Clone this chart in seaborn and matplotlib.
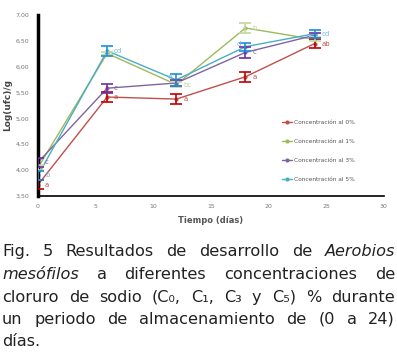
import numpy as np
import pandas as pd
import matplotlib
matplotlib.use('Agg')
import matplotlib.pyplot as plt
import seaborn as sns

# Data
dias = [0, 6, 12, 18, 24]
series_names = ['Concentración al 0%', 'Concentración al 1%',
                'Concentración al 3%', 'Concentración al 5%']
log_c0 = [3.72, 5.41, 5.37, 5.80, 6.44]
log_c1 = [4.05, 6.25, 5.65, 6.74, 6.52]
log_c3 = [4.15, 5.58, 5.68, 6.27, 6.60]
log_c5 = [3.90, 6.30, 5.74, 6.38, 6.63]
err_c0 = [0.09, 0.10, 0.10, 0.10, 0.08]
err_c1 = [0.05, 0.03, 0.05, 0.09, 0.04]
err_c3 = [0.08, 0.09, 0.06, 0.10, 0.05]
err_c5 = [0.09, 0.09, 0.11, 0.08, 0.08]
letras_c0 = ['a', 'a', 'a', 'a', 'ab']
letras_c1 = ['', '', 'bc', 'b', '']
letras_c3 = ['c', 'c', '', 'c', '']
letras_c5 = ['b', 'cd', 'd', 'd', 'cd']

line_colors = ['#C0504D', '#9BBB59', '#8064A2', '#4BACC6']
err_colors = ['#C00000', '#C4D79B', '#7030A0', '#1E90D8']
letter_colors = ['#C0504D', '#C4D79B', '#8064A2', '#6FB8E0']

means = [log_c0, log_c1, log_c3, log_c5]
errs = [err_c0, err_c1, err_c3, err_c5]
letters = [letras_c0, letras_c1, letras_c3, letras_c5]

rows = []
for name, vals in zip(series_names, means):
    for d, v in zip(dias, vals):
        rows.append({'dia': d, 'log': v, 'conc': name})
df = pd.DataFrame(rows)

sns.set_style('white')
plt.rcParams['font.family'] = ['DejaVu Sans']

fig = plt.figure(figsize=(3.97, 3.54), dpi=100)
ax = fig.add_axes([0.0957, 0.446, 0.871, 0.513])

sns.lineplot(data=df, x='dia', y='log', hue='conc', palette=line_colors,
             marker='o', markersize=3, markeredgewidth=0, linewidth=1.0,
             ax=ax, legend=True)

for vals, e, c in zip(means, errs, err_colors):
    ax.errorbar(dias, vals, yerr=e, fmt='none', ecolor=c, elinewidth=1.2,
                capsize=4, capthick=1.2, zorder=3)

# significance letters (cyan ones at t12/t18 sit left of the bar)
for i, (vals, lets, c) in enumerate(zip(means, letters, letter_colors)):
    for j, (d, v, l) in enumerate(zip(dias, vals, lets)):
        if not l:
            continue
        if i == 3 and j in (2, 3):
            ax.text(d - 0.35, v + 0.06, l, color=c, fontsize=5, ha='right', va='center')
        else:
            ax.text(d + 0.6, v, l, color=c, fontsize=5, ha='left', va='center')

ax.set_xlim(0, 30)
ax.set_ylim(3.5, 7.0)
ax.set_xticks(range(0, 31, 5))
ax.set_yticks(np.arange(3.5, 7.01, 0.5))
ax.set_yticklabels([f'{t:.2f}'.replace('.', ',') for t in np.arange(3.5, 7.01, 0.5)])
ax.tick_params(axis='both', length=0, labelsize=4.5, labelcolor='#777777', pad=6)
ax.set_xlabel('Tiempo (días)', fontsize=6, fontweight='bold', color='#555555', labelpad=5)
ax.set_ylabel('Log(ufc)/g', fontsize=6.5, fontweight='bold', color='#444444', labelpad=3)
sns.despine(ax=ax)
ax.spines['left'].set_linewidth(2.5)
ax.spines['left'].set_color('black')
ax.spines['bottom'].set_linewidth(1.2)
ax.spines['bottom'].set_color('black')

handles, labels = ax.get_legend_handles_labels()
ax.legend(handles, labels, loc='center left', bbox_to_anchor=(0.69, 0.25),
          frameon=False, fontsize=4.2, labelspacing=2.4, handlelength=1.8,
          handletextpad=0.3, labelcolor='#555555')

# justified caption below the chart
caption = [
    [('Fig.', False), ('5', False), ('Resultados', False), ('de', False),
     ('desarrollo', False), ('de', False), ('Aerobios', True)],
    [('mesófilos', True), ('a', False), ('diferentes', False),
     ('concentraciones', False), ('de', False)],
    [('cloruro', False), ('de', False), ('sodio', False), ('(C₀,', False),
     ('C₁,', False), ('C₃', False), ('y', False), ('C₅)', False), ('%', False),
     ('durante', False)],
    [('un', False), ('periodo', False), ('de', False), ('almacenamiento', False),
     ('de', False), ('(0', False), ('a', False), ('24)', False)],
    [('días.', False)],
]
baselines = [256, 279, 302, 324, 346]
W, H = 397, 354
left_px, right_px = 2, 395

fig.canvas.draw()
renderer = fig.canvas.get_renderer()
for k, (words, base) in enumerate(zip(caption, baselines)):
    objs = []
    for w, it in words:
        t = fig.text(0, 1 - base / H, w, fontsize=11.6, color='#222222',
                     style='italic' if it else 'normal', va='baseline', ha='left')
        objs.append(t)
    widths = [o.get_window_extent(renderer).width for o in objs]
    if k == len(caption) - 1:
        gap = 6
    else:
        gap = (right_px - left_px - sum(widths)) / (len(objs) - 1)
    x = left_px
    for o, w in zip(objs, widths):
        o.set_x(x / W)
        x += w + gap

fig.savefig('out.png', dpi=100)
